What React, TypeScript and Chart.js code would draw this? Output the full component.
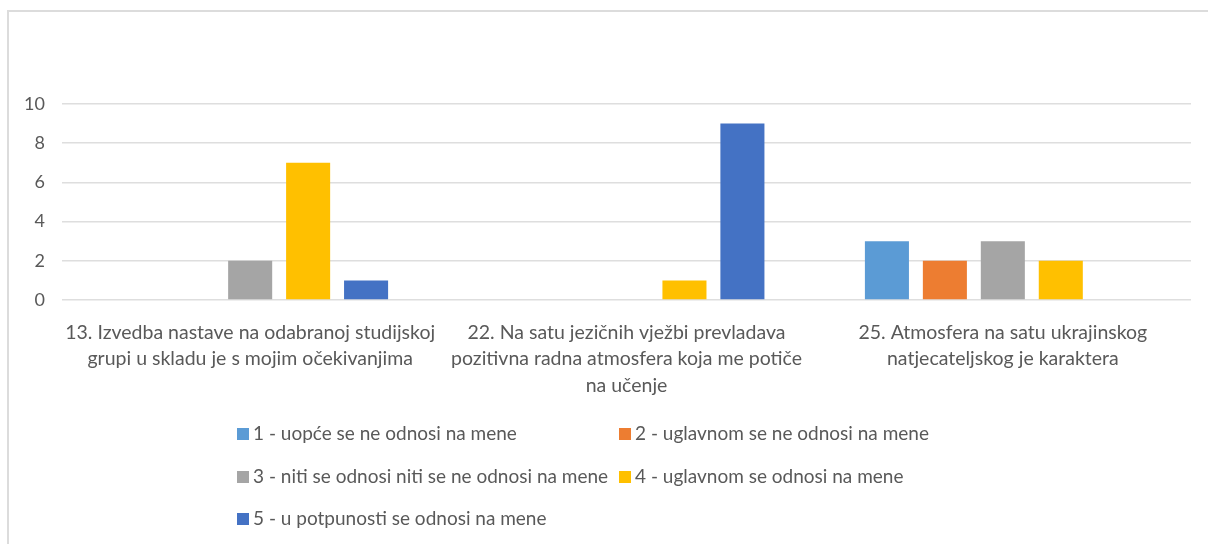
import React, { useEffect, useRef } from "react";
import { Chart, registerables } from "chart.js";

Chart.register(...registerables);

const categories: string[][] = [
  ["13. Izvedba nastave na odabranoj studijskoj", "grupi u skladu je s mojim očekivanjima"],
  ["22. Na satu jezičnih vježbi prevladava", "pozitivna radna atmosfera koja me potiče", "na učenje"],
  ["25. Atmosfera na satu ukrajinskog", "natjecateljskog je karaktera"],
];

const seriesLabels = [
  "1 - uopće se ne odnosi na mene",
  "2 - uglavnom se ne odnosi na mene",
  "3 - niti se odnosi niti se ne odnosi na mene",
  "4 - uglavnom se odnosi na mene",
  "5 - u potpunosti se odnosi na mene",
];

const series1 = [0, 0, 3];
const series2 = [0, 0, 2];
const series3 = [2, 0, 3];
const series4 = [7, 1, 2];
const series5 = [1, 9, 0];

const seriesColors = ["#5B9BD5", "#ED7D31", "#A5A5A5", "#FFC000", "#4472C4"];

const yTicks = [0, 2, 4, 6, 8, 10];

const FONT = "Lato";
const TEXT = "#595959";

const legendPlugin = {
  id: "gridLegend",
  afterDraw(chart: any) {
    const ctx = chart.ctx;
    const cols = [237, 619];
    const rows = [434, 477, 519];
    ctx.save();
    ctx.font = `19px ${FONT}`;
    ctx.textBaseline = "middle";
    ctx.textAlign = "left";
    chart.data.datasets.forEach((ds: any, i: number) => {
      const x = cols[i % 2];
      const y = rows[Math.floor(i / 2)];
      ctx.fillStyle = ds.backgroundColor;
      ctx.fillRect(x, y - 6, 12, 12);
      ctx.fillStyle = TEXT;
      ctx.fillText(ds.label, x + 16, y);
    });
    ctx.restore();
  },
};

export default function App() {
  const ref = useRef<HTMLCanvasElement>(null);
  useEffect(() => {
    if (!ref.current) return;
    const values = [series1, series2, series3, series4, series5];
    const chart = new Chart(ref.current, {
      type: "bar",
      data: {
        labels: categories,
        datasets: values.map((v, i) => ({
          label: seriesLabels[i],
          data: v,
          backgroundColor: seriesColors[i],
          borderWidth: 0,
          barPercentage: 0.76,
          categoryPercentage: 0.77,
        })),
      },
      options: {
        responsive: false,
        animation: false,
        devicePixelRatio: 1,
        layout: { padding: { left: 0, right: 17, top: 104, bottom: 0 } },
        plugins: { legend: { display: false }, tooltip: { enabled: false }, title: { display: false } },
        scales: {
          x: {
            grid: { display: false },
            border: { display: false },
            ticks: {
              color: TEXT,
              font: { family: FONT, size: 19.5, lineHeight: 1.36 },
              padding: 11,
              maxRotation: 0,
              minRotation: 0,
              autoSkip: false,
            },
            afterFit: (s: any) => {
              s.height = 244;
            },
          },
          y: {
            min: 0,
            max: 10,
            afterBuildTicks: (s: any) => {
              s.ticks = yTicks.map((v) => ({ value: v }));
            },
            grid: { color: "#dedede", lineWidth: 1.5, drawTicks: false },
            border: { display: false },
            ticks: {
              color: TEXT,
              font: { family: FONT, size: 18 },
              padding: 17,
            },
            afterFit: (s: any) => {
              s.width = 62;
            },
          },
        },
      },
      plugins: [legendPlugin],
    });
    return () => chart.destroy();
  }, []);

  return (
    <div>
      <div
        style={{
          position: "fixed",
          left: 7,
          top: 10,
          width: 1400,
          height: 800,
          border: "2px solid #dcdcdc",
          boxSizing: "border-box",
        }}
      />
      <canvas
        ref={ref}
        width={1208}
        height={544}
        style={{ position: "fixed", left: 0, top: 0, width: 1208, height: 544 }}
      />
    </div>
  );
}
